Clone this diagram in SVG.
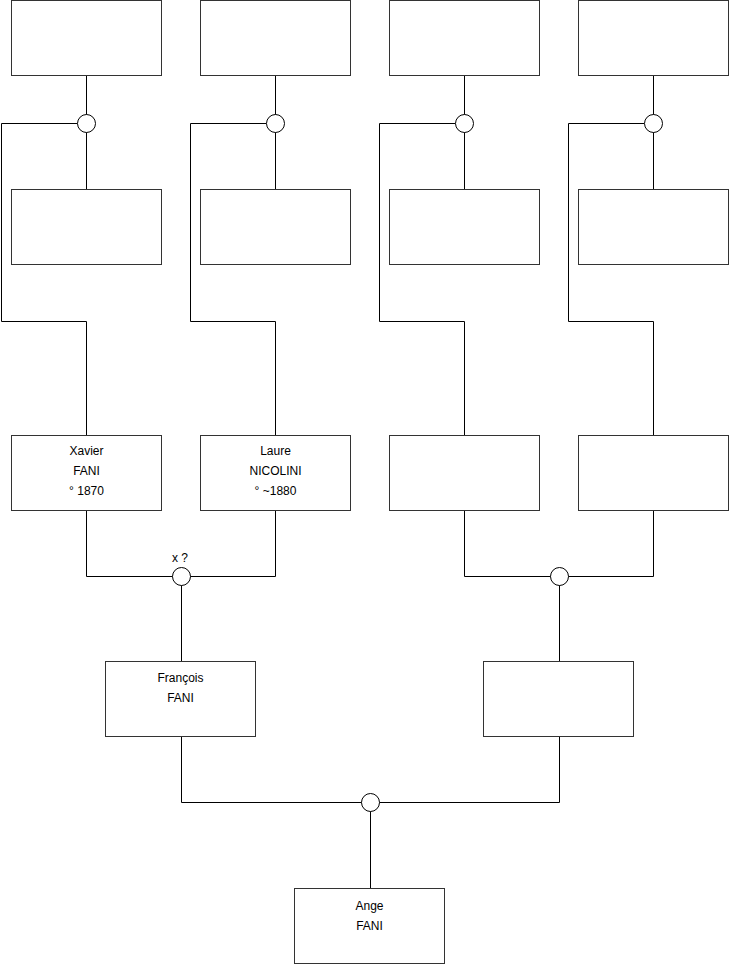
<svg xmlns="http://www.w3.org/2000/svg" width="740" height="975" viewBox="0 0 740 975">
<style>
.box{fill:#fff;stroke:#333;stroke-width:1}
.ln{fill:none;stroke:#000;stroke-width:1}
.c{fill:#fff;stroke:#000;stroke-width:1}
text{font-family:"Liberation Sans",Arial,sans-serif;font-size:12px;fill:#000;text-anchor:middle}
</style>
<rect width="740" height="975" fill="#fff"/>
<g id="connectors">
<path class="ln" d="M86.5,76 V189 M77.5,123.5 H1.5 V321.5 H86.5 V435"/>
<path class="ln" d="M275.5,76 V189 M266.5,123.5 H190.5 V321.5 H275.5 V435"/>
<path class="ln" d="M464.5,76 V189 M455.5,123.5 H379.5 V321.5 H464.5 V435"/>
<path class="ln" d="M653.5,76 V189 M644.5,123.5 H568.5 V321.5 H653.5 V435"/>
<path class="ln" d="M86.5,511 V576.5 H275.5 V511 M181.5,585 V661"/>
<path class="ln" d="M464.5,511 V576.5 H653.5 V511 M559.5,585 V661"/>
<path class="ln" d="M181.5,737 V802.5 H559.5 V737 M370.5,811 V888"/>
<circle class="c" cx="86.5" cy="123.5" r="9"/>
<circle class="c" cx="275.5" cy="123.5" r="9"/>
<circle class="c" cx="464.5" cy="123.5" r="9"/>
<circle class="c" cx="653.5" cy="123.5" r="9"/>
<circle class="c" cx="181.5" cy="576.5" r="9"/>
<circle class="c" cx="559.5" cy="576.5" r="9"/>
<circle class="c" cx="370.5" cy="802.5" r="9"/>
<text x="180" y="562">x ?</text>
</g>
<g id="n1"><rect class="box" x="11.5" y="0.5" width="150" height="75"/></g>
<g id="n2"><rect class="box" x="200.5" y="0.5" width="150" height="75"/></g>
<g id="n3"><rect class="box" x="389.5" y="0.5" width="150" height="75"/></g>
<g id="n4"><rect class="box" x="578.5" y="0.5" width="150" height="75"/></g>
<g id="n5"><rect class="box" x="11.5" y="189.5" width="150" height="75"/></g>
<g id="n6"><rect class="box" x="200.5" y="189.5" width="150" height="75"/></g>
<g id="n7"><rect class="box" x="389.5" y="189.5" width="150" height="75"/></g>
<g id="n8"><rect class="box" x="578.5" y="189.5" width="150" height="75"/></g>
<g id="xavier"><rect class="box" x="11.5" y="435.5" width="150" height="75"/>
<text x="86.5" y="455">Xavier</text><text x="86.5" y="475">FANI</text><text x="86.5" y="495">° 1870</text></g>
<g id="laure"><rect class="box" x="200.5" y="435.5" width="150" height="75"/>
<text x="275.5" y="455">Laure</text><text x="275.5" y="475">NICOLINI</text><text x="275.5" y="495">° ~1880</text></g>
<g id="n11"><rect class="box" x="389.5" y="435.5" width="150" height="75"/></g>
<g id="n12"><rect class="box" x="578.5" y="435.5" width="150" height="75"/></g>
<g id="francois"><rect class="box" x="105.5" y="661.5" width="150" height="75"/>
<text x="180.5" y="682">François</text><text x="180.5" y="702">FANI</text></g>
<g id="n14"><rect class="box" x="483.5" y="661.5" width="150" height="75"/></g>
<g id="ange"><rect class="box" x="294.5" y="888.5" width="150" height="75"/>
<text x="369.5" y="910">Ange</text><text x="369.5" y="930">FANI</text></g>
</svg>
